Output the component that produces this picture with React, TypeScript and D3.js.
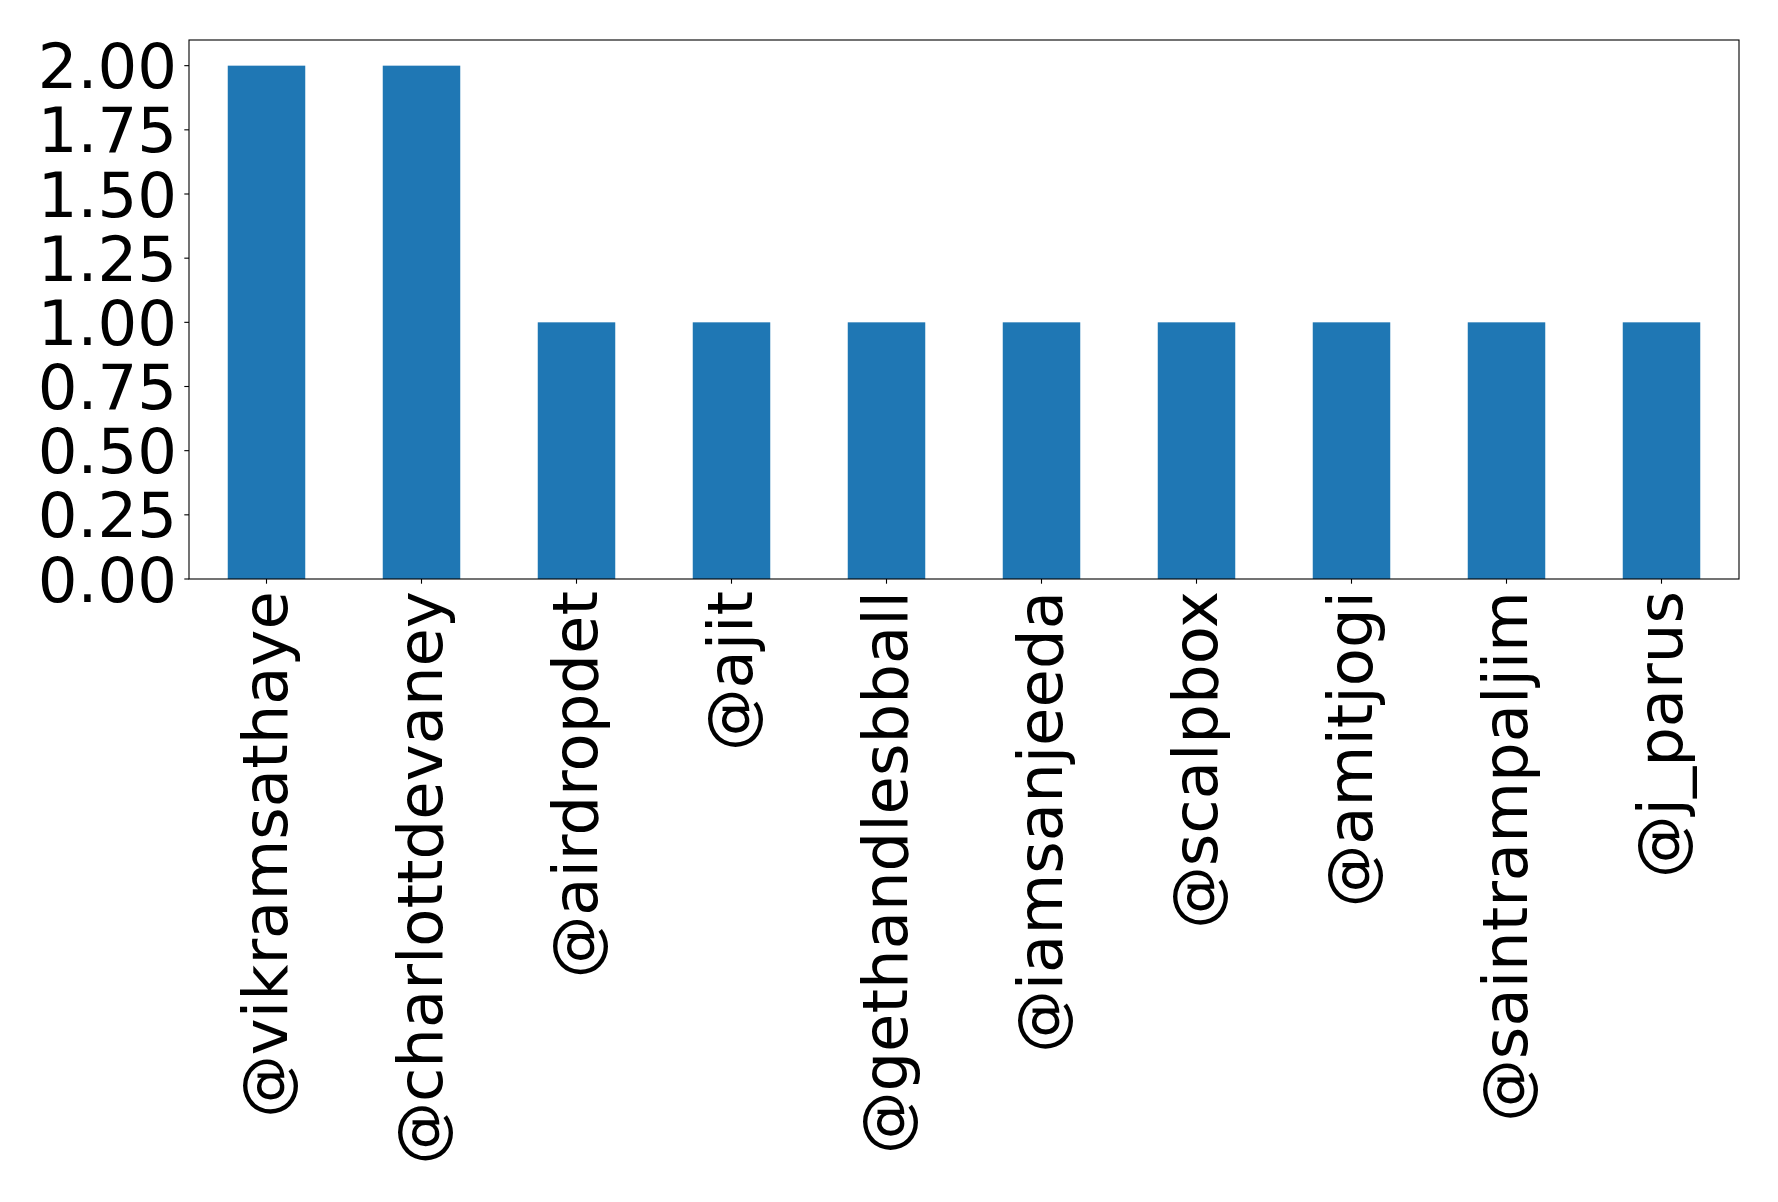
import React from "react";
import * as d3 from "d3";

const categories = [
  "@vikramsathaye",
  "@charlottdevaney",
  "@airdropdet",
  "@ajit",
  "@gethandlesbball",
  "@iamsanjeeda",
  "@scalpbox",
  "@amitjogi",
  "@saintrampaljim",
  "@j_parus",
];
const values = [2, 2, 1, 1, 1, 1, 1, 1, 1, 1];
const yTicks = [0, 0.25, 0.5, 0.75, 1.0, 1.25, 1.5, 1.75, 2.0];

const W = 1778;
const H = 1202;
const M = { left: 189, right: 1739, top: 40, bottom: 579 };
const FONT = "'DejaVu Sans', sans-serif";
const FS = 62.5;

export default function App() {
  const x = d3
    .scaleBand<string>()
    .domain(categories)
    .range([M.left, M.right])
    .paddingInner(0.5)
    .paddingOuter(0.25);
  const y = d3.scaleLinear().domain([0, 2.1]).range([M.bottom, M.top]);

  return (
    <svg
      width={W}
      height={H}
      style={{ position: "absolute", left: 0, top: 0, background: "#fff" }}
    >
      <rect x={0} y={0} width={W} height={H} fill="#fff" />
      {categories.map((c, i) => (
        <rect
          key={c}
          x={x(c)}
          y={y(values[i])}
          width={x.bandwidth()}
          height={y(0) - y(values[i])}
          fill="#1f77b4"
        />
      ))}
      <rect
        x={M.left}
        y={M.top}
        width={M.right - M.left}
        height={M.bottom - M.top}
        fill="none"
        stroke="#000"
        strokeWidth={1.1}
      />
      {yTicks.map((t) => (
        <g key={t}>
          <line
            x1={M.left - 4.7}
            x2={M.left}
            y1={y(t)}
            y2={y(t)}
            stroke="#000"
            strokeWidth={1.1}
          />
          <text
            x={M.left - 12}
            y={y(t)}
            dy="0.36em"
            textAnchor="end"
            fontFamily={FONT}
            fontSize={FS}
            fill="#000"
          >
            {d3.format(".2f")(t)}
          </text>
        </g>
      ))}
      {categories.map((c) => {
        const cx = (x(c) as number) + x.bandwidth() / 2;
        return (
          <g key={c}>
            <line
              x1={cx}
              x2={cx}
              y1={M.bottom}
              y2={M.bottom + 4.7}
              stroke="#000"
              strokeWidth={1.1}
            />
            <text
              transform={`translate(${cx},${M.bottom + 12}) rotate(-90)`}
              dy="0.32em"
              textAnchor="end"
              fontFamily={FONT}
              fontSize={FS}
              fill="#000"
            >
              {c}
            </text>
          </g>
        );
      })}
    </svg>
  );
}
